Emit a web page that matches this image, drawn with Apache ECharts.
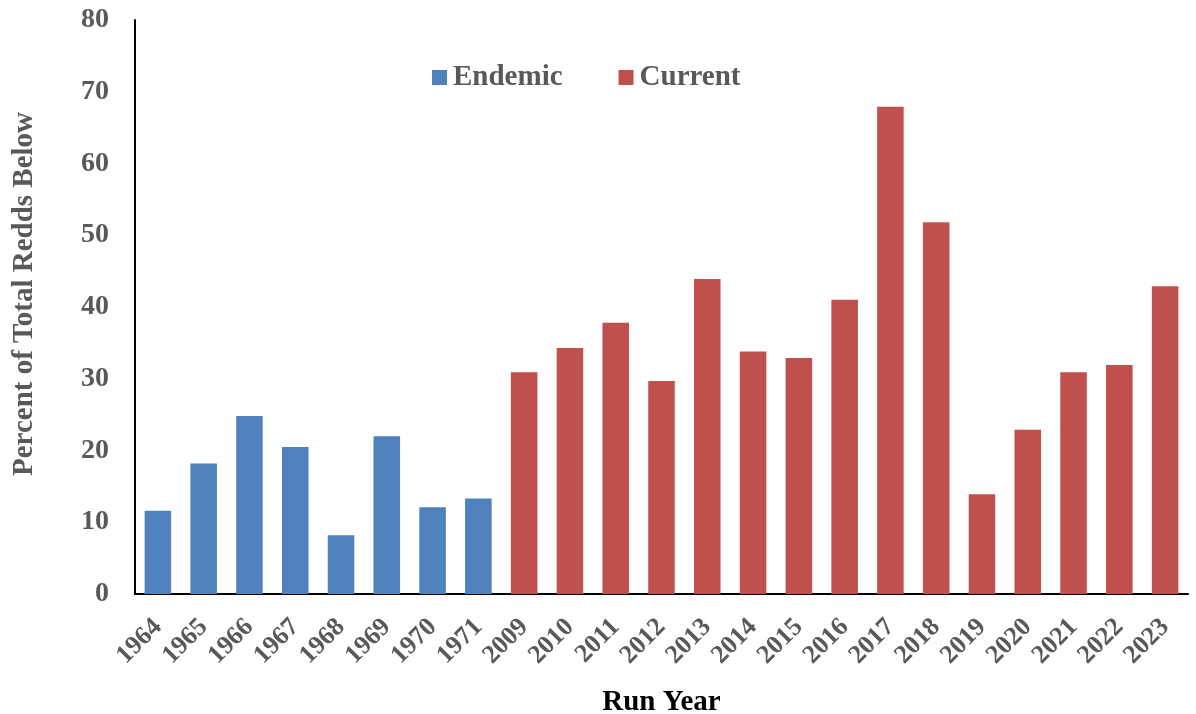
<!DOCTYPE html>
<html>
<head>
<meta charset="utf-8">
<script src="https://cdn.jsdelivr.net/npm/echarts@6/dist/echarts.min.js"></script>
<style>
  html, body { margin: 0; padding: 0; background: #fff; }
  #chart { width: 1196px; height: 714px; }
</style>
</head>
<body>
<div id="chart"></div>
<script>
// Run years on the category axis
const years = ['1964','1965','1966','1967','1968','1969','1970','1971',
  '2009','2010','2011','2012','2013','2014','2015','2016','2017','2018',
  '2019','2020','2021','2022','2023'];

// Percent of total redds below, by period
const endemicYears = ['1964','1965','1966','1967','1968','1969','1970','1971'];
const endemicValues = [11.6, 18.2, 24.8, 20.5, 8.2, 22.0, 12.1, 13.3];

const currentYears = ['2009','2010','2011','2012','2013','2014','2015','2016',
  '2017','2018','2019','2020','2021','2022','2023'];
const currentValues = [30.9, 34.3, 37.8, 29.7, 43.9, 33.8, 32.9, 41.0,
  67.9, 51.8, 13.9, 22.9, 30.9, 31.9, 42.9];

const yTicks = { min: 0, max: 80, interval: 10 };

function alignTo(cats, vals) {
  const m = {};
  cats.forEach((c, i) => { m[c] = vals[i]; });
  return years.map(y => (y in m ? m[y] : '-'));
}

const FONT = '"Liberation Serif", "Times New Roman", serif';
const GREY = '#595959';

const chart = echarts.init(document.getElementById('chart'), null, { renderer: 'canvas' });
chart.setOption({
  animation: false,
  backgroundColor: '#ffffff',
  grid: { left: 135, right: 8, top: 20, bottom: 120, containLabel: false, outerBoundsMode: 'none' },
  legend: {
    top: 63, left: 432, padding: 0,
    itemWidth: 15, itemHeight: 15, itemGap: 56,
    icon: 'rect',
    textStyle: { fontFamily: FONT, fontWeight: 'bold', fontSize: 29, color: GREY, padding: [0, 0, 0, 1] },
    data: ['Endemic', 'Current']
  },
  xAxis: {
    type: 'category',
    data: years,
    name: 'Run Year',
    nameLocation: 'middle',
    nameGap: 94,
    nameTextStyle: { fontFamily: FONT, fontWeight: 'bold', fontSize: 29, color: '#000' },
    axisLine: { lineStyle: { color: '#000', width: 2 } },
    axisTick: { show: false },
    axisLabel: {
      rotate: 45, interval: 0, margin: 29,
      fontFamily: FONT, fontWeight: 'bold', fontSize: 26, color: GREY
    }
  },
  yAxis: {
    type: 'value',
    min: yTicks.min, max: yTicks.max, interval: yTicks.interval,
    name: 'Percent of Total Redds Below',
    nameLocation: 'middle',
    nameGap: 96,
    nameTextStyle: { fontFamily: FONT, fontWeight: 'bold', fontSize: 29, color: GREY, padding: [0, 0, 0, 26] },
    axisLine: { show: true, lineStyle: { color: '#000', width: 2 } },
    axisTick: { show: false },
    splitLine: { show: false },
    axisLabel: { fontFamily: FONT, fontWeight: 'bold', fontSize: 28, color: GREY, margin: 26 }
  },
  series: [
    {
      name: 'Endemic', type: 'bar',
      data: alignTo(endemicYears, endemicValues),
      barWidth: '58%', barGap: '-100%',
      itemStyle: { color: '#4F81BD' }
    },
    {
      name: 'Current', type: 'bar',
      data: alignTo(currentYears, currentValues),
      barWidth: '58%', barGap: '-100%',
      itemStyle: { color: '#C0504D' }
    }
  ]
});
</script>
</body>
</html>
